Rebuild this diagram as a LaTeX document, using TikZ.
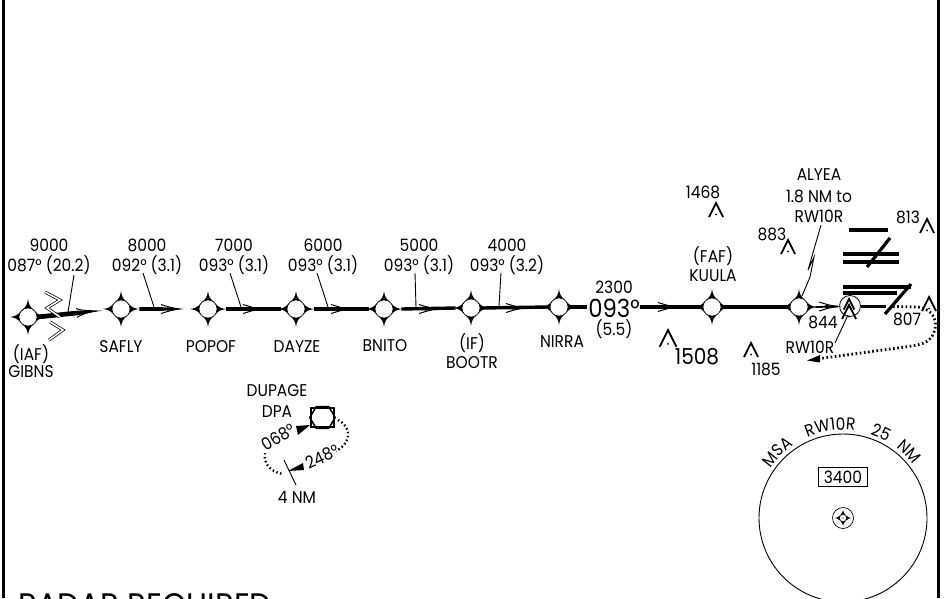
\documentclass[tikz,border=0pt]{standalone}
\usepackage{fontspec}
\setmainfont{Poppins}[FakeStretch=0.91]
\usetikzlibrary{decorations.text}
\newcommand{\fixsym}[2]{%
  \node[fixnode] (#1) at (#2) {};
  \begin{scope}[shift={(#2)}]
  \foreach \r in {0,90,180,270}{
    \fill[rotate=\r] (18,0) .. controls (13,-0.6) and (10,-2) .. (7,-6) -- (7,6) .. controls (10,2) and (13,0.6) .. (18,0) -- cycle;
  }
  \end{scope}
  \node[fixnode,fill=white,draw=black] at (#1) {};
}
\newcommand{\obst}[2][1]{%
  \draw[obstline] ([xshift=-7*#1 pt,yshift=-14*#1 pt]#2) -- (#2) -- ([xshift=7*#1 pt,yshift=-14*#1 pt]#2);
  \fill ([yshift=-11.5*#1 pt]#2) circle (1pt);
}
\newcommand{\barb}[1]{%
  \draw[barbline] ([xshift=-19pt,yshift=4.5pt]#1) .. controls +(8,2.5) and +(-8,-1) .. (#1)
    .. controls +(-8,1) and +(8,-2.5) .. ([xshift=-19pt,yshift=-4.5pt]#1);
  \fill ([xshift=-13pt,yshift=1.7pt]#1) -- (#1) -- ([xshift=-13pt,yshift=-1.7pt]#1) -- cycle;
}
\tikzset{
  lab/.style={inner sep=0pt,font=\fontsize{17}{20}\selectfont,text=black},
  biglab/.style={inner sep=0pt,font=\fontsize{22}{25}\selectfont,text=black},
  hugelab/.style={inner sep=0pt,font=\fontsize{25}{30}\selectfont,text=black},
  fixnode/.style={circle,minimum size=18pt,inner sep=0pt,line width=0.6pt},
  course/.style={line width=3.4pt},
  barbline/.style={line width=1pt},
  leaderline/.style={line width=0.9pt},
  obstline/.style={line width=1.8pt},
  dotline/.style={line width=2.8pt,dash pattern=on 1.6pt off 2.6pt},
  holdline/.style={line width=2.4pt,dash pattern=on 1.4pt off 2.6pt},
  zigline/.style={double=white,double distance=1.6pt,line width=0.7pt},
  rwbar/.style={line width=3.2pt},
}
\begin{document}
\begin{tikzpicture}[x=1pt,y=-1pt]
\useasboundingbox (0,0) rectangle (947,598);
\clip (0,0) rectangle (947,598);
\fill[white] (0,0) rectangle (947,598);
% frame
\draw[line width=2.4pt] (3.6,0) -- (3.6,598);
\draw[line width=2.4pt] (938.6,0) -- (938.6,598);
% fixes
\fixsym{gibns}{28,317}
\fixsym{safly}{121,309}
\fixsym{popof}{208,309}
\fixsym{dayze}{296,309}
\fixsym{bnito}{384,309}
\fixsym{bootr}{471,308}
\fixsym{nirra}{559,307}
\fixsym{kuula}{712,307}
\fixsym{alyea}{799,307}
% courses
\coordinate (tipa) at (97,311);
\coordinate (tipb) at (180,309);
\fill ([yshift=2.4pt]gibns.east) -- (78,310.6) -- (tipa) -- (78,315.2) -- ([yshift=-2.4pt]gibns.east) -- cycle;
\draw[barbline] (76,308.6) .. controls (83,311) and (90,310.5) .. (tipa) .. controls (90,312) and (84,313) .. (77,317.4);
\fill ([xshift=9pt,yshift=-1.8pt]safly.east) -- ([xshift=-17pt,yshift=-1.8pt]tipb) -- (tipb) -- ([xshift=-17pt,yshift=1.8pt]tipb) -- ([xshift=9pt,yshift=1.8pt]safly.east) -- cycle;
\barb{tipb}
\draw[course] ([xshift=9pt]popof.east) -- ([xshift=-6pt]dayze.west);
\draw[course] ([xshift=9pt]dayze.east) -- ([xshift=-6pt]bnito.west);
\draw[course] ([xshift=8pt]bnito.east) -- ([xshift=-6pt]bootr.west);
\draw[course] ([xshift=2pt]bootr.east) -- ([xshift=-2pt]nirra.west);
\draw[course] ([xshift=1pt]nirra.east) -- (587,307);
\coordinate (crsa) at (640,307);
\draw[course] (crsa) -- ([xshift=-1pt]kuula.west);
\draw[course] ([xshift=1pt]kuula.east) -- ([xshift=-1pt]alyea.west);
\coordinate (tipc) at (262,309);
\coordinate (tipd) at (350,309);
\coordinate (tipe) at (438,309);
\coordinate (tipf) at (525,308);
\coordinate (tipg) at (677,307);
\coordinate (tiph) at (838,306.5);
\barb{tipc}\barb{tipd}\barb{tipe}\barb{tipf}\barb{tipg}\barb{tiph}
\draw[line width=1.8pt] ([xshift=7pt]alyea.east) -- (tiph);
% leaders
\draw[leaderline] (74,275) coordinate (la1) -- (68,312) coordinate (la2);
\draw[leaderline] (143,273) coordinate (lb1) -- (154,307) coordinate (lb2);
\draw[leaderline] (230,273) coordinate (lc1) -- (241,307) coordinate (lc2);
\draw[leaderline] (317,273) coordinate (ld1) -- (328,307) coordinate (ld2);
\draw[leaderline] (415,273) coordinate (le1) -- (416,307) coordinate (le2);
\draw[leaderline] (501,273) coordinate (lf1) -- (499,306) coordinate (lf2);
\draw[leaderline] (821,225) coordinate (lg1) -- (808,270) -- (814,257) -- (810,277) -- (802,296) coordinate (lg2);
\draw[leaderline] (835,343) coordinate (lh1) -- (848,315) coordinate (lh2);
% break marks
\draw[zigline] (45,292) -- (60,300) -- (47,308) -- (60,317);
\draw[zigline] (50,322) -- (63,330) -- (49,340);
% labels
\node[lab] (t1) at (49,245) {9000};
\node[lab] (t2) at (49,265) {087° (20.2)};
\node[lab] (t3) at (147,245) {8000};
\node[lab] (t4) at (147,265) {092° (3.1)};
\node[lab] (t5) at (234,245) {7000};
\node[lab] (t6) at (234,265) {093° (3.1)};
\node[lab] (t7) at (323,245) {6000};
\node[lab] (t8) at (323,265) {093° (3.1)};
\node[lab] (t9) at (419,245) {5000};
\node[lab] (t10) at (419,265) {093° (3.1)};
\node[lab] (t11) at (507,245) {4000};
\node[lab] (t12) at (507,265) {093° (3.2)};
\node[lab] (t13) at (614,287) {2300};
\node[hugelab] (t14) at (614,308) {093°};
\node[lab] (t15) at (614,329) {(5.5)};
\node[lab] (n1) at (31,354) {(IAF)};
\node[lab] (n2) at (31,372) {GIBNS};
\node[lab] (n3) at (121,347) {SAFLY};
\node[lab] (n4) at (211,347) {POPOF};
\node[lab] (n5) at (297,347) {DAYZE};
\node[lab] (n6) at (385,346) {BNITO};
\node[lab] (n7) at (472,343) {(IF)};
\node[lab] (n8) at (472,363) {BOOTR};
\node[lab] (n9) at (562,342) {NIRRA};
\node[lab] (n10) at (713,256) {(FAF)};
\node[lab] (n11) at (713,276) {KUULA};
\node[lab] (n12) at (819,175) {ALYEA};
\node[lab] (n13) at (819,196) {1.8 NM to};
\node[lab] (n14) at (819,216) {RW10R};
\node[lab] (n15) at (810,347) {RW10R};
\node[lab] (o1) at (703,192) {1468};
\node[lab] (o2) at (772,234) {883};
\node[lab] (o3) at (908,217) {813};
\node[lab] (o4) at (907,319) {807};
\node[lab] (o5) at (823,322) {844};
\node[biglab] (o6) at (697,357) {1508};
\node[lab] (o7) at (766,369) {1185};
% obstacles
\obst{716,203}
\obst{788,240}
\obst{927,219}
\obst{929,297}
\obst[1.2]{668,330}
\obst{751,343}
% runway
\node[circle,draw,line width=0.8pt,minimum size=21pt,inner sep=0pt] (rwc) at (850,306) {};
\obst[0.75]{849,299}
\obst{849,305}
\draw[course,line width=3pt] (rwc.east) -- (886,306);
\draw[rwbar] (849,230) -- (888,230);
\draw[rwbar] (843,254) -- (899,254);
\draw[rwbar] (843,262) -- (899,262);
\draw[rwbar] (890,238) -- (867,267);
\draw[rwbar] (843,287) -- (911,287);
\draw[rwbar] (843,293) -- (897,293);
\draw[rwbar] (911,284) -- (885,314);
% missed approach
\coordinate (mis) at (820,358.5);
\draw[dotline] (893,306.5) -- (918,307) .. controls (934,309) and (938,322) .. (934,332) .. controls (930,344) and (918,345) .. (905,347) -- (mis);
\fill (807,360.5) -- (820,355) -- (820,362.5) -- cycle;
% holding
\node[lab] (h1) at (277,391) {DUPAGE};
\node[lab] (h2) at (277,412) {DPA};
\node[draw,line width=2.4pt,minimum width=23pt,minimum height=19.5pt,inner sep=0pt] (dpa) at (322.5,417.5) {};
\draw[line width=1.5pt] (dpa.west) -- ([xshift=6.5pt]dpa.north west) -- ([xshift=-6.5pt]dpa.north east) -- (dpa.east) -- ([xshift=-6.5pt]dpa.south east) -- ([xshift=6.5pt]dpa.south west) -- cycle;
\coordinate (ha) at (338,420);
\coordinate (hb) at (336,451);
\coordinate (hc) at (265,453);
\coordinate (hd) at (284,474);
\draw[holdline] (ha) .. controls (350,426) and (354,441) .. (hb);
\draw[holdline] (hc) .. controls (263,466) and (274,473) .. (hd);
\fill (310,425) -- (296,426) -- (298,435) -- cycle;
\fill (288,471) -- (303,463) -- (304,470) -- cycle;
\draw[leaderline] (284,460) coordinate (hk1) -- (296,485) coordinate (hk2);
\node[lab,rotate=30] (h3) at (278,437) {068°};
\node[lab,rotate=25] (h4) at (322,457) {248°};
\node[lab] (h5) at (297,497) {4 NM};
% MSA
\node[circle,draw,line width=0.9pt,minimum size=168pt,inner sep=0pt] (msa) at (843,518) {};
\node[draw,line width=0.8pt,minimum width=49pt,minimum height=19pt,inner sep=0pt,lab] (mb) at (843,477) {3400};
\node[circle,draw,line width=0.7pt,minimum size=21pt,inner sep=0pt] (ms) at (843,518) {};
\begin{scope}[shift={(843,518)}]
\foreach \r in {0,90,180,270}{
  \fill[rotate=\r] (8,0) .. controls (6,-0.3) and (5,-1) .. (3,-2.5) -- (3,2.5) .. controls (5,1) and (6,0.3) .. (8,0) -- cycle;
}
\end{scope}
\node[circle,fill=white,draw=black,line width=0.4pt,minimum size=7pt,inner sep=0pt] at (ms) {};
\fill (ms) circle (0.6pt);
\def\msaword#1#2#3#4{%
  \path[decorate,decoration={text along path,text align=center,text={|\fontsize{#4}{#4}\selectfont|#1}}]
    (msa.center) ++(#2:88pt) arc[start angle=#2,end angle=#3,radius=88pt];}
\msaword{MSA}{155}{115}{17}
\msaword{RW10R}{120}{76}{17}
\msaword{25}{80}{52}{17}
\msaword{NM}{65}{25}{17}
% title
\node[inner sep=0pt,anchor=base west,font=\fontsize{34}{38}\selectfont] (title) at (18,617) {RADAR REQUIRED};
\end{tikzpicture}
\end{document}
